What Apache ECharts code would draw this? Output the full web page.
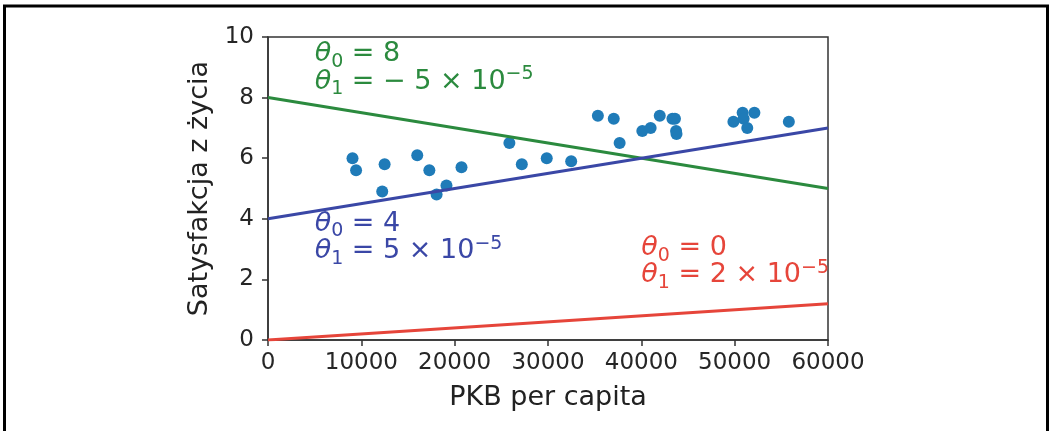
<!DOCTYPE html>
<html>
<head>
<meta charset="utf-8">
<script src="https://cdn.jsdelivr.net/npm/echarts@6/dist/echarts.min.js"></script>
<style>
  html, body { margin: 0; padding: 0; background: #fff; }
  #box { width: 1049px; height: 431px; }
</style>
</head>
<body>
<div id="box"></div>
<script>
// PKB per capita (x) i satysfakcja z życia (y) - punkty
var gdp = [9054, 9437, 12239, 12495, 15991, 17288, 18064, 19121, 20732, 25864,
           27195, 29866, 32485, 35343, 37044, 37675, 40106, 40996, 41973, 43331,
           43603, 43724, 43770, 49866, 50854, 50962, 51350, 52114, 55805];
var satisfaction = [6.0, 5.6, 4.9, 5.8, 6.1, 5.6, 4.8, 5.1, 5.7, 6.5,
                    5.8, 6.0, 5.9, 7.4, 7.3, 6.5, 6.9, 7.0, 7.4, 7.3,
                    7.3, 6.9, 6.8, 7.2, 7.5, 7.3, 7.0, 7.5, 7.2];

// końce prostych modelu (x = 0 i x = 60000)
var lineX = [0, 60000];
var greenY = [8, 5];
var blueY = [4, 7];
var redY = [0, 1.2];

// podpisy: [x, y linii bazowej, theta0, theta1, wykładnik]
var greenNote = [5000, 9.1, '8', '−5', '−5'];
var blueNote = [5000, 3.5, '4', '5', '−5'];
var redNote = [40000, 2.7, '0', '2', '−5'];

var GREEN = '#2b8a3e', BLUE = '#3a47a6', RED = '#e6453a', DOT = '#1f7bb8';
var FONT = 'DejaVu Sans';

function pairs(xs, ys) {
  var out = [];
  for (var i = 0; i < xs.length; i++) out.push([xs[i], ys[i]]);
  return out;
}

function richFor(color) {
  return {
    th: { fontFamily: FONT, fontStyle: 'italic', fontSize: 27, color: color, lineHeight: 34 },
    sub: { fontFamily: FONT, fontSize: 19, color: color, verticalAlign: 'bottom', lineHeight: 19 },
    n: { fontFamily: FONT, fontSize: 27, color: color, lineHeight: 34 },
    sup: { fontFamily: FONT, fontSize: 19, color: color, verticalAlign: 'top', lineHeight: 17 }
  };
}

// jedna seria z dwoma wierszami tekstu (zakotwiczone jak plt.text)
function noteSeries(note, color) {
  var t1 = note[3].charAt(0) === '−' ? '− ' + note[3].slice(1) : note[3];
  var lines = [
    '{th|θ}{sub|0}{n| = ' + note[2] + '}',
    '{th|θ}{sub|1}{n| = ' + t1 + ' × 10}{sup|' + note[4] + '}'
  ];
  return {
    type: 'scatter',
    symbolSize: 0,
    silent: true,
    z: 5,
    itemStyle: { opacity: 1 },
    data: [
      { value: [note[0], note[1]], label: { formatter: lines[0] } },
      { value: [note[0], note[1] - 0.9], label: { formatter: lines[1] } }
    ],
    label: {
      show: true,
      position: [0, 0],
      align: 'left',
      verticalAlign: 'bottom',
      offset: [0, 7],
      rich: richFor(color)
    }
  };
}

var myChart = echarts.init(document.getElementById('box'));

var axisCommon = {
  axisLine: { show: true, onZero: false, lineStyle: { color: '#333', width: 1.5 } },
  axisTick: { show: true, inside: false, length: 6, lineStyle: { color: '#333', width: 1.5 } },
  splitLine: { show: false },
  nameTextStyle: { fontFamily: FONT, fontSize: 27, color: '#222' }
};

var option = {
  backgroundColor: '#fff',
  animation: false,
  grid: {
    left: 268, top: 37, right: 221, bottom: 91,
    show: true, borderColor: '#333', borderWidth: 1.5
  },
  xAxis: Object.assign({}, axisCommon, {
    type: 'value',
    min: 0, max: 60000, interval: 10000,
    name: 'PKB per capita',
    nameLocation: 'middle',
    nameGap: 44,
    axisLabel: { fontFamily: FONT, fontSize: 23, color: '#262626', margin: 12,
      formatter: function (v) { return String(v); } }
  }),
  yAxis: Object.assign({}, axisCommon, {
    type: 'value',
    min: 0, max: 10, interval: 2,
    name: 'Satysfakcja z życia',
    nameLocation: 'middle',
    nameGap: 46,
    axisLabel: { fontFamily: FONT, fontSize: 23, color: '#262626', margin: 14 }
  }),
  series: [
    {
      type: 'scatter', symbol: 'circle', symbolSize: 12,
      itemStyle: { color: DOT, opacity: 1 },
      data: pairs(gdp, satisfaction)
    },
    { type: 'line', symbol: 'none', lineStyle: { color: RED, width: 3 }, data: pairs(lineX, redY) },
    { type: 'line', symbol: 'none', lineStyle: { color: GREEN, width: 3 }, data: pairs(lineX, greenY) },
    { type: 'line', symbol: 'none', lineStyle: { color: BLUE, width: 3 }, data: pairs(lineX, blueY) },
    noteSeries(greenNote, GREEN),
    noteSeries(blueNote, BLUE),
    noteSeries(redNote, RED)
  ],
  graphic: [
    {
      type: 'rect',
      shape: { x: 4.5, y: 6, width: 1043, height: 460 },
      style: { fill: null, stroke: '#000', lineWidth: 3 },
      z: 100
    }
  ]
};

option && myChart.setOption(option);
</script>
</body>
</html>
